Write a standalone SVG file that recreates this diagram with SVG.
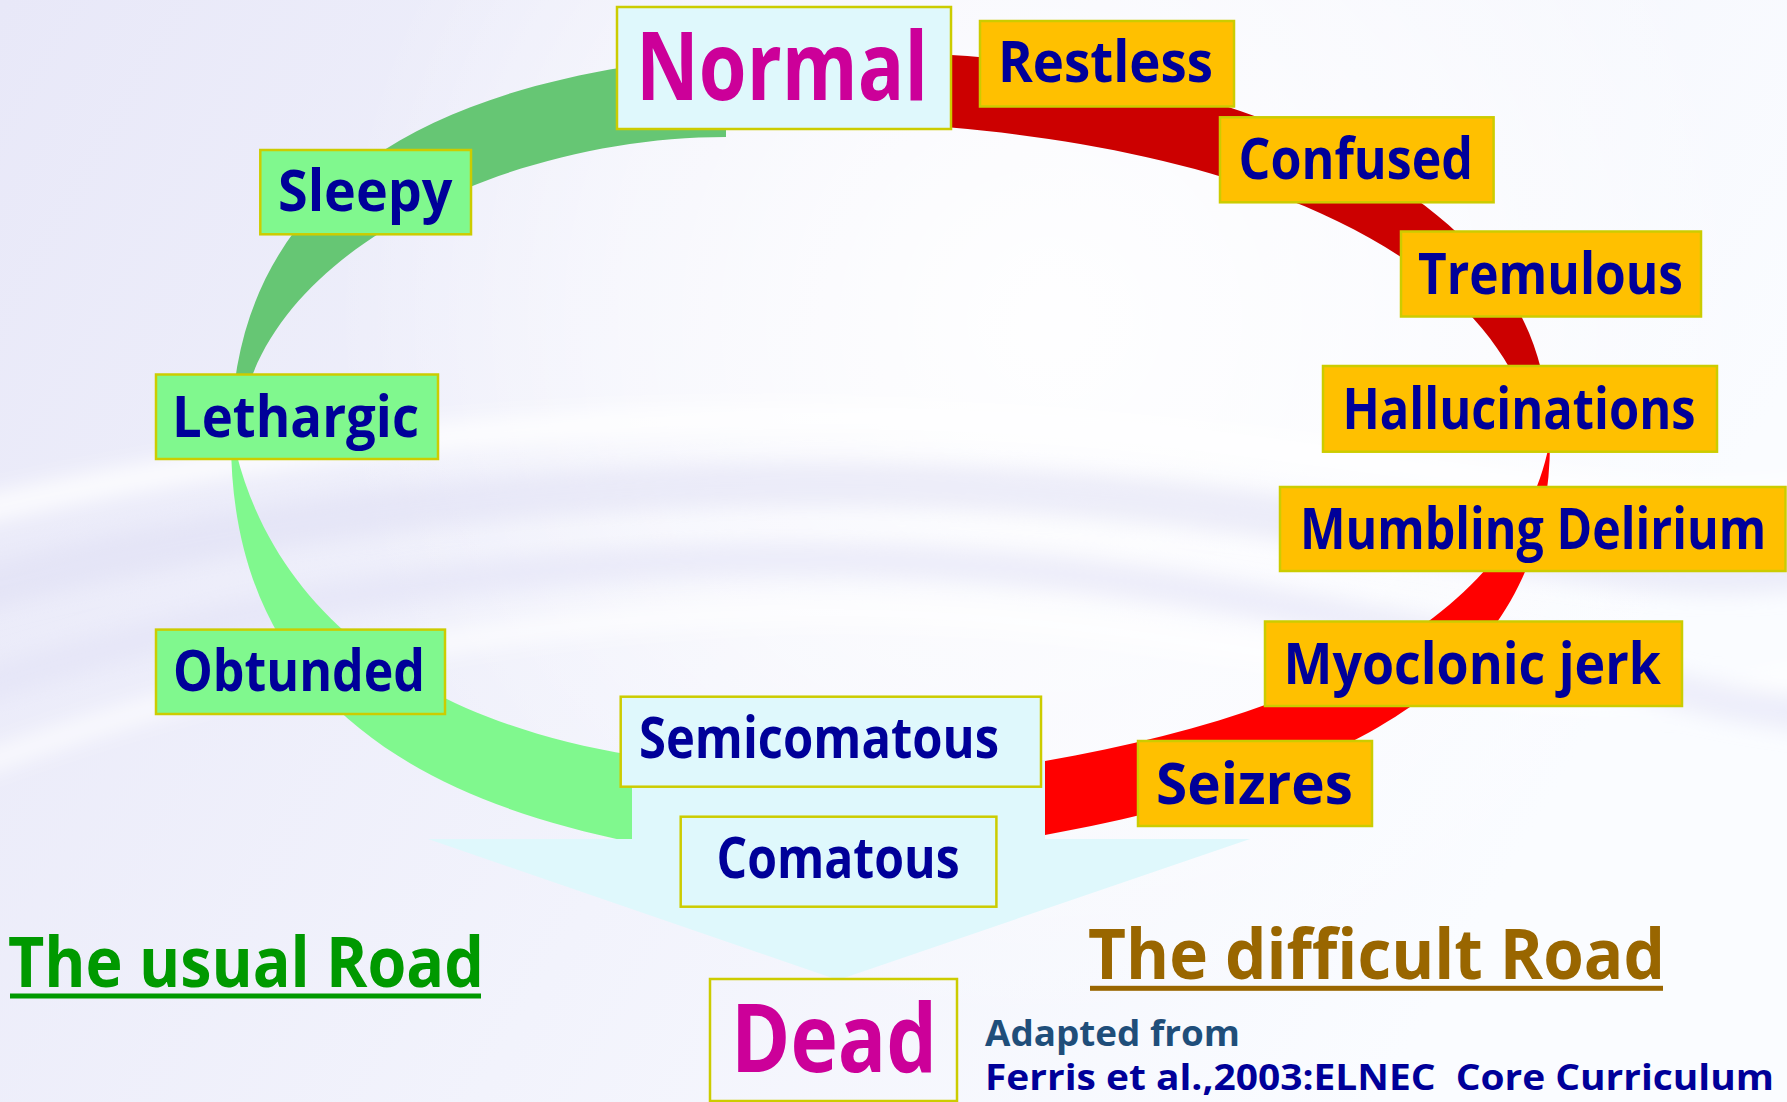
<svg xmlns="http://www.w3.org/2000/svg" width="1787" height="1102" viewBox="0 0 1787 1102">
<defs>
<linearGradient id="bg" x1="0" y1="0" x2="1" y2="0.35">
<stop offset="0" stop-color="#E8E8F8"/>
<stop offset="0.55" stop-color="#F2F3FC"/>
<stop offset="1" stop-color="#FAFCFF"/>
</linearGradient>
<radialGradient id="hl" cx="1050" cy="320" r="720" gradientUnits="userSpaceOnUse">
<stop offset="0" stop-color="#FFFFFF" stop-opacity="0.95"/>
<stop offset="0.6" stop-color="#FFFFFF" stop-opacity="0.5"/>
<stop offset="1" stop-color="#FFFFFF" stop-opacity="0"/>
</radialGradient>
<filter id="blur" x="-10%" y="-50%" width="120%" height="200%">
<feGaussianBlur stdDeviation="10"/>
</filter>
</defs>
<style>
.box{stroke:#CCCC00;stroke-width:2.5}
.green{fill:#80F88E}
.orange{fill:#FFC000}
.cyan{fill:#DFF8FC}
.lbl{font-family:"Open Sans","DejaVu Sans",sans-serif;font-weight:700;font-size:58px;fill:#000099}
.big{font-family:"Open Sans","DejaVu Sans",sans-serif;font-weight:700;font-size:95px;fill:#CC0099}
.road{font-family:"Open Sans","DejaVu Sans",sans-serif;font-weight:700;font-size:69px}
.ref{font-family:"Open Sans","DejaVu Sans",sans-serif;font-weight:700;font-size:35px}
</style>
<g id="background">
<rect width="1787" height="1102" fill="url(#bg)"/>
<rect width="1787" height="1102" fill="url(#hl)"/>
<g filter="url(#blur)" fill="none">
<path d="M -60,600 C 400,470 900,460 1300,520 S 1700,580 1860,560" stroke="#DEDEF4" stroke-width="45" opacity="0.5"/>
<path d="M -60,520 C 300,430 800,390 1200,440 S 1700,520 1860,480" stroke="#FFFFFF" stroke-width="28" opacity="0.8"/>
<path d="M -60,780 C 300,640 700,580 1100,630 S 1600,740 1860,660" stroke="#FFFFFF" stroke-width="22" opacity="0.7"/>
<path d="M -60,700 C 350,560 800,520 1250,600 S 1650,700 1860,720" stroke="#E2E2F6" stroke-width="35" opacity="0.55"/>
</g>
</g>
<g id="connectors">
<path id="green-upper" d="M 860,50 C 440.5,50 231,180 231,440 L 238,450 C 238,260 500,137 726,137 L 726,120 L 860,120 Z" fill="#66C674"/>
<path id="green-lower" d="M 231,440 C 231,680 392,794 632,842 L 632,755 C 426,722 278,620 236,452 Z" fill="#80F88E"/>
<path id="red-upper" d="M 900,52 L 951,55 C 1201,69.75 1540,180 1548,420 L 1538,440 C 1490,230 1201,149 951,127.5 L 900,125 Z" fill="#CC0000"/>
<path id="red-lower" d="M 1550,440 C 1551,680 1345,780.1 1045,835 L 1045,761 C 1295,718 1513,625 1549,445 Z" fill="#FF0000"/>
<path id="arrow-down" d="M 632,760 L 1045,760 L 1045,839 L 1250,839 L 838,980 L 428,839 L 632,839 Z" fill="#DFF8FC"/>
</g>
<g id="node-normal">
<rect class="box cyan" x="617" y="7" width="334" height="122"/>
<text class="big" x="636" y="100" textLength="292" lengthAdjust="spacingAndGlyphs">Normal</text>
</g>
<g id="node-restless">
<rect class="box orange" x="980" y="21" width="254" height="85.5"/>
<text class="lbl" x="998" y="82" textLength="215" lengthAdjust="spacingAndGlyphs">Restless</text>
</g>
<g id="node-confused">
<rect class="box orange" x="1220" y="117.3" width="273.6" height="85"/>
<text class="lbl" x="1238.5" y="179" textLength="234.5" lengthAdjust="spacingAndGlyphs">Confused</text>
</g>
<g id="node-tremulous">
<rect class="box orange" x="1401" y="231.5" width="300" height="85"/>
<text class="lbl" x="1418" y="294" textLength="265" lengthAdjust="spacingAndGlyphs">Tremulous</text>
</g>
<g id="node-hallucinations">
<rect class="box orange" x="1323" y="366" width="394" height="85.7"/>
<text class="lbl" x="1342.5" y="428.6" textLength="353" lengthAdjust="spacingAndGlyphs">Hallucinations</text>
</g>
<g id="node-mumbling">
<rect class="box orange" x="1280" y="487" width="505.5" height="84"/>
<text class="lbl" transform="translate(1300,549) scale(0.84,1)" x="0" y="0" textLength="555" lengthAdjust="spacingAndGlyphs">Mumbling Delirium</text>
</g>
<g id="node-myoclonic">
<rect class="box orange" x="1265" y="621.5" width="417" height="84.5"/>
<text class="lbl" x="1283.5" y="684" textLength="377.5" lengthAdjust="spacingAndGlyphs">Myoclonic jerk</text>
</g>
<g id="node-seizres">
<rect class="box orange" x="1138" y="741" width="234" height="85"/>
<text class="lbl" x="1156" y="803.5" textLength="197" lengthAdjust="spacingAndGlyphs">Seizres</text>
</g>
<g id="node-sleepy">
<rect class="box green" x="260.3" y="150" width="210.7" height="84.3"/>
<text class="lbl" x="278" y="211" textLength="174.5" lengthAdjust="spacingAndGlyphs">Sleepy</text>
</g>
<g id="node-lethargic">
<rect class="box green" x="156" y="374.5" width="282" height="84.5"/>
<text class="lbl" x="172" y="437" textLength="247" lengthAdjust="spacingAndGlyphs">Lethargic</text>
</g>
<g id="node-obtunded">
<rect class="box green" x="156" y="629.6" width="289" height="84.4"/>
<text class="lbl" x="173" y="691" textLength="252" lengthAdjust="spacingAndGlyphs">Obtunded</text>
</g>
<g id="node-semicomatous">
<rect class="box cyan" x="620.7" y="696.7" width="420.3" height="90"/>
<text class="lbl" x="639" y="758" textLength="360" lengthAdjust="spacingAndGlyphs">Semicomatous</text>
</g>
<g id="node-comatous">
<rect class="box cyan" x="680.7" y="816.7" width="315.7" height="90"/>
<text class="lbl" x="716.6" y="878" textLength="243" lengthAdjust="spacingAndGlyphs">Comatous</text>
</g>
<g id="node-dead">
<rect class="box" fill="none" x="710" y="979" width="247" height="122"/>
<text class="big" x="731" y="1072" textLength="206" lengthAdjust="spacingAndGlyphs">Dead</text>
</g>
<g id="label-usual">
<text class="road" x="8" y="986.5" fill="#009900" textLength="476" lengthAdjust="spacingAndGlyphs">The usual Road</text>
<rect x="10" y="993.5" width="471" height="5" fill="#009900"/>
</g>
<g id="label-difficult">
<text class="road" x="1088" y="979" fill="#996600" textLength="577" lengthAdjust="spacingAndGlyphs">The difficult Road</text>
<rect x="1090" y="985.8" width="573" height="5" fill="#996600"/>
</g>
<g id="label-source">
<text class="ref" x="985" y="1046" fill="#1F4E7A" textLength="255" lengthAdjust="spacingAndGlyphs">Adapted from</text>
<text class="ref" x="985" y="1090" fill="#000099" xml:space="preserve" textLength="789" lengthAdjust="spacingAndGlyphs">Ferris et al.,2003:ELNEC  Core Curriculum</text>
</g>
</svg>
